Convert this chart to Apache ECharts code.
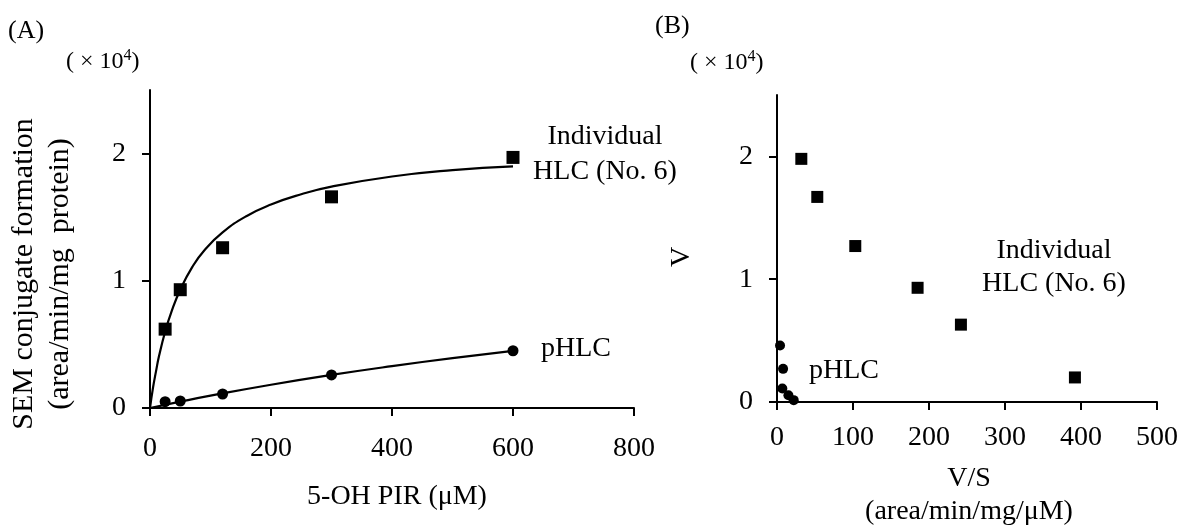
<!DOCTYPE html>
<html>
<head>
<meta charset="utf-8">
<script src="https://cdn.jsdelivr.net/npm/echarts@6/dist/echarts.min.js"></script>
<style>
html,body{margin:0;padding:0;background:#fff;}
#chart{width:1189px;height:530px;}
</style>
</head>
<body>
<div id="chart"></div>
<script>
// ---- Panel A: 5-OH PIR concentration (uM) vs SEM conjugate formation (x10^4) ----
const aSubstrate = [25, 50, 120, 300, 600];
const aIndividual = [0.62, 0.93, 1.26, 1.66, 1.97];
const aPHLC = [0.05, 0.055, 0.11, 0.26, 0.45];
// fitted curves
const aIndFitX = [0, 5, 10, 15, 25, 35, 50, 70, 90, 120, 160, 200, 250, 300, 400, 500, 600];
const aIndFitV = [0, 0.16, 0.29, 0.41, 0.60, 0.75, 0.93, 1.11, 1.24, 1.38, 1.51, 1.60, 1.68, 1.74, 1.82, 1.87, 1.90];
const aPFitX = [0, 50, 100, 200, 300, 400, 500, 600];
const aPFitV = [0, 0.05, 0.097, 0.183, 0.26, 0.329, 0.392, 0.449];

// ---- Panel B: Eadie-Hofstee (V/S vs V) ----
const bIndVS = [32, 53, 103, 185, 242, 392];
const bIndV = [1.98, 1.67, 1.27, 0.93, 0.63, 0.20];
const bPVS = [4, 8, 7, 15, 22];
const bPV = [0.46, 0.27, 0.11, 0.055, 0.015];

const aXTicks = [0, 200, 400, 600, 800];
const bXTicks = [0, 100, 200, 300, 400, 500];
const yTicks = [0, 1, 2];

const FONT = 'Liberation Serif, Times New Roman, serif';
const zip = (xs, ys) => xs.map((x, i) => [x, ys[i]]);

function xAxisCfg(idx, max, ticks, margin) {
  return {
    type: 'value', gridIndex: idx, min: 0, max: max, interval: ticks[1] - ticks[0],
    axisLine: {show: true, onZero: false, lineStyle: {color: '#000', width: 2}},
    axisTick: {show: true, length: 8, inside: false, lineStyle: {color: '#000', width: 2}},
    axisLabel: {color: '#000', fontSize: 28, fontFamily: FONT, margin: margin},
    splitLine: {show: false}
  };
}
function yAxisCfg(idx) {
  return {
    type: 'value', gridIndex: idx, min: 0, max: 2.5,
    axisLine: {show: true, onZero: false, lineStyle: {color: '#000', width: 2}},
    axisTick: {show: true, length: 8, inside: false, customValues: yTicks, lineStyle: {color: '#000', width: 2}},
    axisLabel: {color: '#000', fontSize: 28, fontFamily: FONT, margin: 24, customValues: yTicks},
    splitLine: {show: false}
  };
}

function txt(x, y, text, opts) {
  opts = opts || {};
  return {
    type: 'text', x: x, y: y, rotation: opts.rotation || 0, z: 100,
    style: {
      text: text, fill: '#000', fontFamily: FONT, fontSize: opts.size || 28,
      align: opts.align || 'center', verticalAlign: 'middle', lineHeight: opts.lh || 33
    }
  };
}
function times10(x, y) {
  return {
    type: 'text', x: x, y: y, z: 100,
    style: {
      text: '{a|( × 10}{s|4}{a|)}',
      align: 'left', verticalAlign: 'middle',
      rich: {
        a: {fontFamily: FONT, fontSize: 24, fill: '#000', lineHeight: 28},
        s: {fontFamily: FONT, fontSize: 16, fill: '#000', lineHeight: 16, verticalAlign: 'top'}
      }
    }
  };
}

const dot = {color: '#000', opacity: 1};
const chart = echarts.init(document.getElementById('chart'), null, {renderer: 'canvas'});
chart.setOption({
  backgroundColor: '#fff',
  animation: false,
  grid: [
    {left: 150, top: 90, width: 484, height: 318},
    {left: 777, top: 95, width: 380, height: 307}
  ],
  xAxis: [xAxisCfg(0, 800, aXTicks, 27), xAxisCfg(1, 500, bXTicks, 22)],
  yAxis: [yAxisCfg(0), yAxisCfg(1)],
  series: [
    {type: 'line', xAxisIndex: 0, yAxisIndex: 0, data: zip(aIndFitX, aIndFitV), smooth: 0.5,
     showSymbol: false, lineStyle: {color: '#000', width: 2.2}, z: 2},
    {type: 'line', xAxisIndex: 0, yAxisIndex: 0, data: zip(aPFitX, aPFitV), smooth: 0.5,
     showSymbol: false, lineStyle: {color: '#000', width: 2.2}, z: 2},
    {type: 'scatter', xAxisIndex: 0, yAxisIndex: 0, data: zip(aSubstrate, aIndividual), symbol: 'rect', symbolSize: 13,
     itemStyle: dot, z: 3},
    {type: 'scatter', xAxisIndex: 0, yAxisIndex: 0, data: zip(aSubstrate, aPHLC), symbol: 'circle', symbolSize: 11,
     itemStyle: dot, z: 3},
    {type: 'scatter', xAxisIndex: 1, yAxisIndex: 1, data: zip(bIndVS, bIndV), symbol: 'rect', symbolSize: 12,
     itemStyle: dot, z: 3},
    {type: 'scatter', xAxisIndex: 1, yAxisIndex: 1, data: zip(bPVS, bPV), symbol: 'circle', symbolSize: 10,
     itemStyle: dot, z: 3}
  ],
  graphic: [
    txt(8, 31, '(A)', {align: 'left', size: 26}),
    txt(655, 26, '(B)', {align: 'left', size: 26}),
    times10(66, 62),
    times10(690, 63),
    txt(42, 274, 'SEM conjugate formation\n(area/min/mg  protein)', {rotation: Math.PI / 2, size: 30, lh: 36}),
    txt(397, 497, '5-OH PIR (μM)'),
    txt(605, 154, 'Individual\nHLC (No. 6)', {lh: 35}),
    txt(541, 349, 'pHLC', {align: 'left'}),
    txt(682, 257, 'V', {rotation: Math.PI / 2}),
    txt(969, 495, 'V/S\n(area/min/mg/μM)'),
    txt(1054, 267, 'Individual\nHLC (No. 6)'),
    txt(809, 371, 'pHLC', {align: 'left'})
  ]
});
</script>
</body>
</html>
